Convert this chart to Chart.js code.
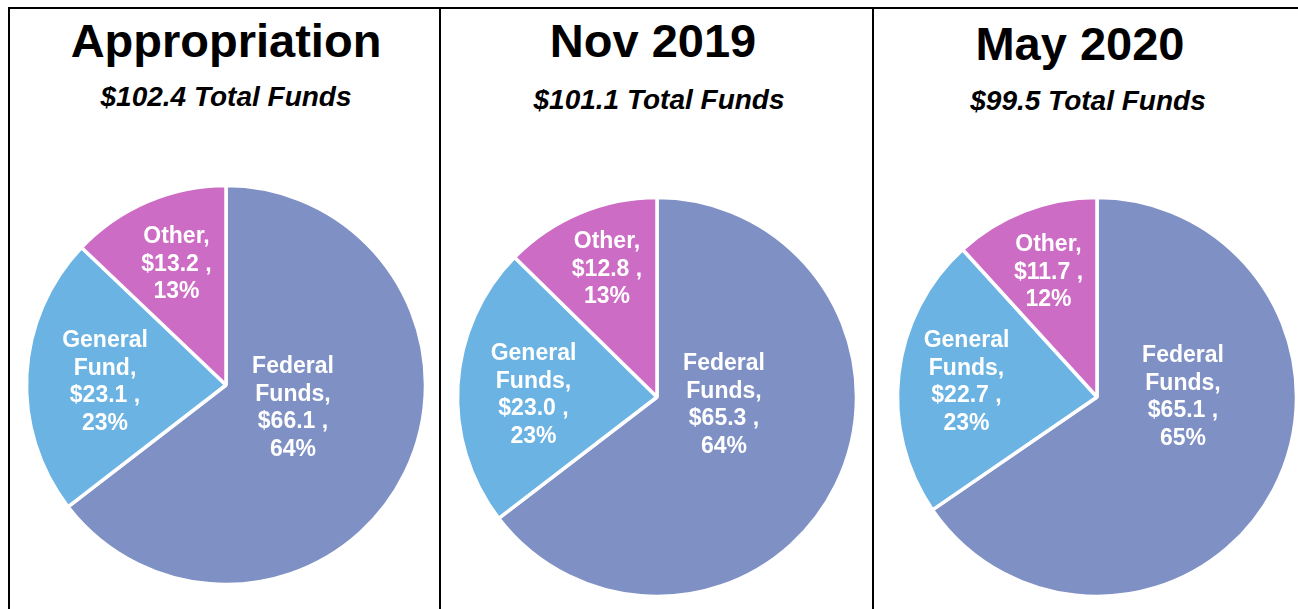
<!DOCTYPE html>
<html>
<head>
<meta charset="utf-8">
<script src="https://cdn.jsdelivr.net/npm/chart.js@4.4.0/dist/chart.umd.min.js"></script>
<style>
  html, body { margin:0; padding:0; width:1298px; height:609px; overflow:hidden; background:#ffffff; }
  body { position:relative; font-family:"Liberation Sans", Arial, Helvetica, sans-serif; color:#000; }
  .rule { position:absolute; background:#000; }
  .title { position:absolute; width:420px; text-align:center; white-space:nowrap; font-weight:bold; font-size:47px; line-height:47px; }
  .sub { position:absolute; width:420px; text-align:center; white-space:nowrap; font-weight:bold; font-style:italic; font-size:28px; line-height:28px; }
  .box { position:absolute; width:440px; height:440px; }
</style>
</head>
<body>
<div class="rule" style="left:8px; top:7px; width:1290px; height:2px;"></div>
<div class="rule" style="left:8px; top:7px; width:2px; height:602px;"></div>
<div class="rule" style="left:439px; top:7px; width:2px; height:602px;"></div>
<div class="rule" style="left:872px; top:7px; width:2px; height:602px;"></div>
<div id="root"></div>
<script>
// ---------------- DATA ----------------
const panelTitles   = ["Appropriation", "Nov 2019", "May 2020"];
const totalFunds    = [102.4, 101.1, 99.5];
const categories    = ["Federal Funds", "General Fund", "Other"];
const federalFunds  = [66.1, 65.3, 65.1];
const generalFund   = [23.1, 23.0, 22.7];
const otherFunds    = [13.2, 12.8, 11.7];
const federalPct    = ["64%", "64%", "65%"];
const generalPct    = ["23%", "23%", "23%"];
const otherPct      = ["13%", "13%", "12%"];
const generalName   = [["General", "Fund,"], ["General", "Funds,"], ["General", "Funds,"]];
const federalName   = ["Federal", "Funds,"];
const otherName     = ["Other,"];

// ---------------- STYLE / LAYOUT ----------------
const colors = ["#7F90C4", "#6BB3E3", "#CC6CC4"];
const pieCenters = [[226, 385], [657, 397], [1096.5, 397]];
const titleCenters = [[226, 57], [653, 57], [1080, 60]];      // x center, baseline
const subCenters   = [[226, 107], [659, 110], [1088, 111]];
// label anchor offsets (first-line baseline) from pie centre, px
const labelOffsets = [
  [[67, -12], [-121, -38], [-49.5, -142]],
  [[67, -27], [-123.5, -37], [-50, -149]],
  [[86, -35], [-130.5, -50], [-48.5, -146]]
];
const labelFontPx = 23;
const labelLineH = 27.7;
const pieRadius = 199.5;
const BOX = 440;

const root = document.getElementById('root');

const labelPlugin = {
  id: 'sliceLabels',
  afterDatasetsDraw(chart) {
    const ctx = chart.ctx;
    const meta = chart.getDatasetMeta(0);
    const lines = chart.options.plugins.sliceLabels.lines;
    const offs = chart.options.plugins.sliceLabels.offsets;
    ctx.save();
    ctx.fillStyle = '#ffffff';
    ctx.font = 'bold ' + labelFontPx + 'px "Liberation Sans", Arial, sans-serif';
    ctx.textAlign = 'center';
    ctx.textBaseline = 'alphabetic';
    meta.data.forEach((arc, i) => {
      const x = arc.x + offs[i][0];
      let y = arc.y + offs[i][1];
      lines[i].forEach(t => { ctx.fillText(t, x, y); y += labelLineH; });
    });
    ctx.restore();
  }
};

panelTitles.forEach((title, p) => {
  const t = document.createElement('div');
  t.className = 'title';
  t.textContent = title;
  t.style.left = (titleCenters[p][0] - 210) + 'px';
  t.style.top = (titleCenters[p][1] - 47 * 0.8465) + 'px';
  root.appendChild(t);

  const s = document.createElement('div');
  s.className = 'sub';
  s.textContent = '$' + totalFunds[p].toFixed(1) + ' Total Funds';
  s.style.left = (subCenters[p][0] - 210) + 'px';
  s.style.top = (subCenters[p][1] - 28 * 0.8465) + 'px';
  root.appendChild(s);

  const box = document.createElement('div');
  box.className = 'box';
  box.style.left = (pieCenters[p][0] - BOX / 2) + 'px';
  box.style.top = (pieCenters[p][1] - BOX / 2) + 'px';
  const cv = document.createElement('canvas');
  cv.width = BOX; cv.height = BOX;
  box.appendChild(cv);
  root.appendChild(box);

  const values = [federalFunds[p], generalFund[p], otherFunds[p]];
  const lines = [
    federalName.concat(['$' + federalFunds[p].toFixed(1) + ' ,', federalPct[p]]),
    generalName[p].concat(['$' + generalFund[p].toFixed(1) + ' ,', generalPct[p]]),
    otherName.concat(['$' + otherFunds[p].toFixed(1) + ' ,', otherPct[p]])
  ];

  new Chart(cv, {
    type: 'pie',
    data: {
      labels: categories,
      datasets: [{
        data: values,
        backgroundColor: colors,
        borderColor: '#ffffff',
        borderWidth: 3.5
      }]
    },
    options: {
      responsive: false,
      animation: false,
      radius: pieRadius,
      layout: { padding: 0 },
      events: [],
      plugins: {
        legend: { display: false },
        tooltip: { enabled: false },
        title: { display: false },
        sliceLabels: { lines: lines, offsets: labelOffsets[p] }
      }
    },
    plugins: [labelPlugin]
  });
});
</script>
</body>
</html>
